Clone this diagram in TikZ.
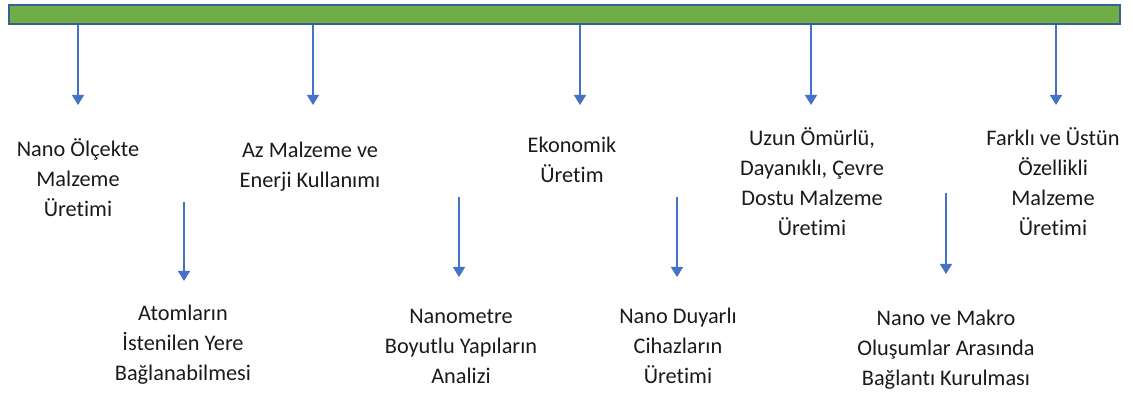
\documentclass[tikz,border=0pt]{standalone}
\usepackage{fontspec}
\setmainfont{Carlito}[Ligatures=NoCommon]
\usetikzlibrary{arrows.meta}
\definecolor{barGreen}{HTML}{70AD47}
\definecolor{barEdge}{HTML}{3A5F95}
\definecolor{arrowBlue}{HTML}{4472C4}
\definecolor{labelText}{HTML}{1A1A1A}
\begin{document}
\begin{tikzpicture}[x=1pt,y=-1pt,
    lbl/.style={font=\fontsize{22.3}{30}\selectfont, align=center, anchor=base, inner sep=0pt, text=labelText},
    arr/.style={draw=arrowBlue, line width=1.4pt, -{Triangle[width=12pt,length=10pt]}}]
    \useasboundingbox (0,0) rectangle (1133,398);
    % bar
    \node[draw=barEdge, fill=barGreen, line width=1.8pt, minimum width=1111pt, minimum height=19pt,
          inner sep=0pt, anchor=north west] (bar) at (8,4) {};
    % upper labels (placed at the baseline of their last line)
    \node[lbl] (prod) at (78,217) {Nano Ölçekte\\Malzeme\\Üretimi};
    \node[lbl] (less) at (310,188) {Az Malzeme ve\\Enerji Kullanımı};
    \node[lbl] (econ) at (572,183) {Ekonomik\\Üretim};
    \node[lbl] (eco)  at (812,236) {Uzun Ömürlü,\\Dayanıklı, Çevre\\Dostu Malzeme\\Üretimi};
    \node[lbl] (prop) at (1053,236) {Farklı ve Üstün\\Özellikli\\Malzeme\\Üretimi};
    % lower labels
    \node[lbl] (atom) at (183,380) {Atomların\\İstenilen Yere\\Bağlanabilmesi};
    \node[lbl] (anal) at (461,383) {Nanometre\\Boyutlu Yapıların\\Analizi};
    \node[lbl] (sens) at (678,383) {Nano Duyarlı\\Cihazların\\Üretimi};
    \node[lbl] (link) at (946,385) {Nano ve Makro\\Oluşumlar Arasında\\Bağlantı Kurulması};
    % arrows from the bar
    \foreach \x/\n in {78/1, 313/2, 580/3, 811/4, 1056/5}{
        \coordinate (tip\n) at (\x,105);
        \draw[arr] (bar.south -| tip\n) -- (tip\n);
    }
    % free arrows
    \coordinate (s1) at (184,202); \coordinate (e1) at (184,281);
    \coordinate (s2) at (459,197); \coordinate (e2) at (459,277);
    \coordinate (s3) at (677,197); \coordinate (e3) at (677,277);
    \coordinate (s4) at (946,193); \coordinate (e4) at (946,274);
    \draw[arr] (s1) -- (e1);
    \draw[arr] (s2) -- (e2);
    \draw[arr] (s3) -- (e3);
    \draw[arr] (s4) -- (e4);
\end{tikzpicture}
\end{document}
